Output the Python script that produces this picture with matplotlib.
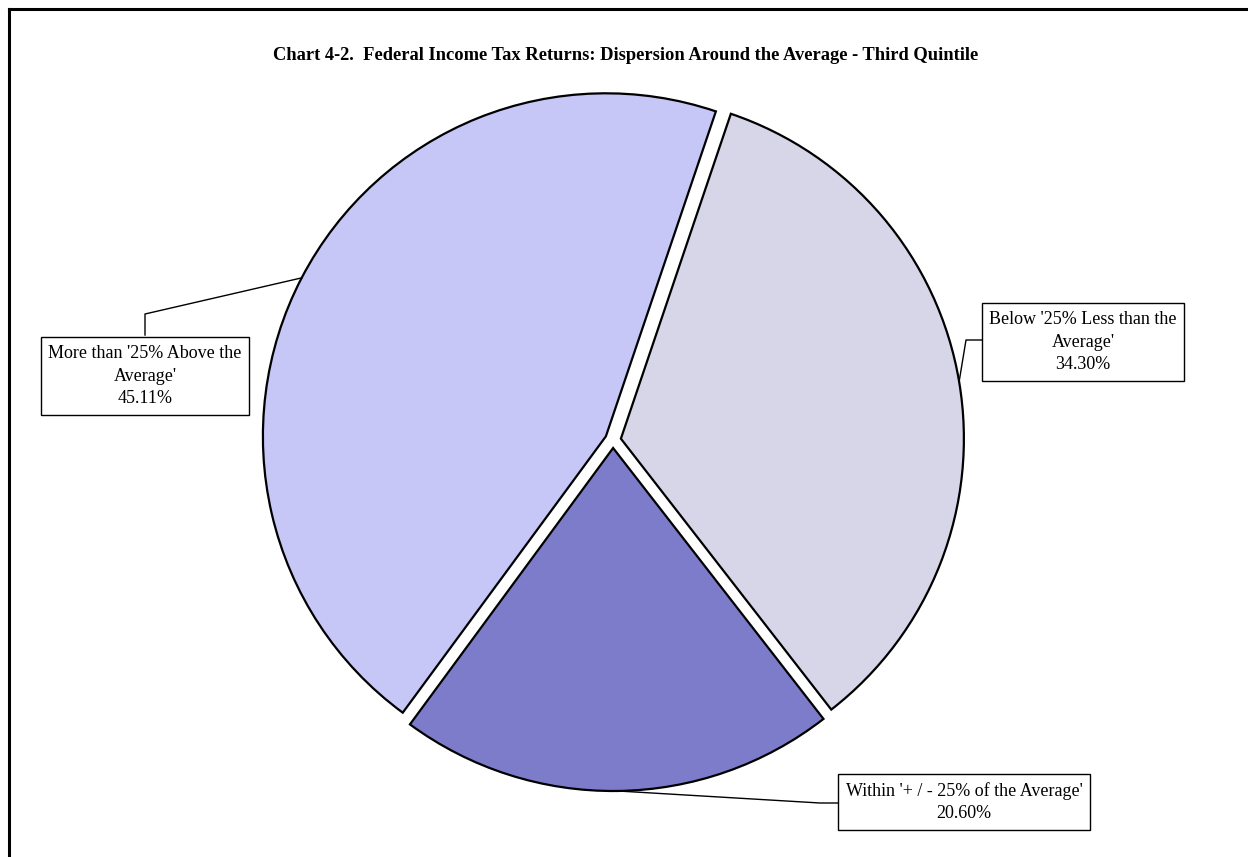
import numpy as np
import matplotlib
matplotlib.use("Agg")
import matplotlib.pyplot as plt

# ---- data ----
labels = [
    "Below '25% Less than the\nAverage'",
    "Within '+ / - 25% of the Average'",
    "More than '25% Above the\nAverage'",
]
shares = [34.30, 20.60, 45.11]
colors = ["#d6d6e8", "#7c7cca", "#c6c6f7"]

W, H = 1248, 857


def Y(y):
    # image rows -> axis units (y up)
    return H - y


fig = plt.figure(figsize=(W / 100, H / 100), dpi=100)
ax = fig.add_axes([0, 0, 1, 1])
ax.set_xlim(0, W)
ax.set_ylim(0, H)

# pie (explode is in data units here, i.e. pixels)
cx, cy, R = 613, Y(440), 343
wedges, _ = ax.pie(
    shares,
    colors=colors,
    startangle=71.3,
    counterclock=False,
    explode=[8, 8, 8],
    center=(cx, cy),
    radius=R,
    frame=True,
    wedgeprops=dict(edgecolor="black", linewidth=1.6),
)
ax.set_xlim(0, W)
ax.set_ylim(0, H)
ax.axis("off")

# label boxes: (box centre, elbow point, box edge point) in image pixels
boxes = [
    ((1083, 342), (966, 340), (987, 340)),
    ((964, 802), (820, 803), (841, 803)),
    ((145, 376), (145, 314), (145, 335)),
]

for w, lab, val, (bc, elbow, edge) in zip(wedges, labels, shares, boxes):
    mid = np.deg2rad((w.theta1 + w.theta2) / 2)
    px = w.center[0] + w.r * np.cos(mid)
    py = w.center[1] + w.r * np.sin(mid)
    ax.plot([px, elbow[0], edge[0]], [py, Y(elbow[1]), Y(edge[1])],
            color="black", lw=1.0, zorder=3)
    ax.text(bc[0], Y(bc[1]), f"{lab}\n{val:.2f}%",
            ha="center", va="center", fontsize=13,
            family="Liberation Serif", linespacing=1.45,
            bbox=dict(boxstyle="square,pad=0.4", fc="white",
                      ec="black", lw=1.0), zorder=4)

# title
ax.text(626, Y(55),
        "Chart 4-2.  Federal Income Tax Returns: Dispersion Around the Average - Third Quintile",
        ha="center", va="center", fontsize=13.3, fontweight="bold",
        family="Liberation Serif")

# outer frame (left and top edges visible)
ax.plot([9, 9], [0, Y(9)], color="black", lw=2.2)
ax.plot([9, W], [Y(9), Y(9)], color="black", lw=2.2)

fig.savefig("out.png", dpi=100)
